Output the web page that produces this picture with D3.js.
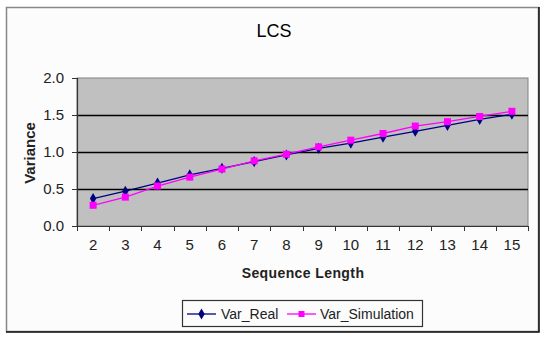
<!DOCTYPE html>
<html><head><meta charset="utf-8">
<script src="https://cdn.jsdelivr.net/npm/d3@7"></script>
<style>body{margin:0;background:#fff}svg{display:block}text{font-family:Arial,"Liberation Sans",sans-serif}</style>
</head><body>
<svg id="c" width="545" height="337"></svg>
<script>
const categories = ["2","3","4","5","6","7","8","9","10","11","12","13","14","15"];
const varReal = [0.37,0.47,0.58,0.69,0.78,0.87,0.96,1.05,1.12,1.20,1.28,1.36,1.44,1.51];
const varSim  = [0.28,0.39,0.54,0.66,0.77,0.88,0.97,1.07,1.16,1.25,1.35,1.41,1.48,1.55];
const yTicks = [0,0.5,1.0,1.5,2.0];
const seriesNames = ["Var_Real","Var_Simulation"];

const svg = d3.select("#c");
// chart frame
svg.append("rect").attr("x",6.5).attr("y",7.5).attr("width",532).attr("height",324)
  .attr("fill","#fcfcfc").attr("stroke","#888").attr("stroke-width",1.5);
svg.append("path").attr("d","M539,7 V332 H6").attr("fill","none").attr("stroke","#111").attr("stroke-width",1.5);

const L=77,R=528,T=78,B=226;
const x = d3.scaleBand().domain(categories).range([L,R]).padding(0);
const y = d3.scaleLinear().domain([0,2]).range([B,T]);

svg.append("rect").attr("x",L).attr("y",T).attr("width",R-L).attr("height",B-T)
  .attr("fill","#c0c0c0").attr("stroke","#808080").attr("stroke-width",1);

// gridlines
svg.append("g").selectAll("line").data(yTicks.filter(d=>d>0&&d<2)).join("line")
  .attr("x1",L).attr("x2",R).attr("y1",d=>Math.round(y(d))+0.5).attr("y2",d=>Math.round(y(d))+0.5)
  .attr("stroke","#000").attr("stroke-width",1.3);

// y axis
const ya = svg.append("g").attr("transform",`translate(${L},0)`)
  .call(d3.axisLeft(y).tickValues(yTicks).tickFormat(d3.format(".1f")).tickSize(5).tickPadding(8));
ya.select(".domain").attr("stroke","#333").attr("stroke-width",1.2);
ya.selectAll(".tick line").attr("stroke","#333");
ya.selectAll("text").attr("font-size",15).attr("fill","#222").attr("font-family","Arial,'Liberation Sans',sans-serif");

// x axis
const xa = svg.append("g").attr("transform",`translate(0,${B})`)
  .call(d3.axisBottom(x).tickSize(0).tickPadding(13));
xa.select(".domain").attr("stroke","#333").attr("stroke-width",1.2);
xa.selectAll("text").attr("font-size",15).attr("fill","#222").attr("font-family","Arial,'Liberation Sans',sans-serif");
// tick marks at band boundaries
const bounds = categories.map(c=>x(c)).concat([R]);
svg.append("g").selectAll("line").data(bounds).join("line")
  .attr("x1",d=>Math.round(d)+0.5).attr("x2",d=>Math.round(d)+0.5).attr("y1",B).attr("y2",B+5)
  .attr("stroke","#333");

// lines
const cx = c=>x(c)+x.bandwidth()/2;
const line = d3.line().x((d,i)=>cx(categories[i])).y(d=>y(d));
svg.append("path").datum(varReal).attr("d",line).attr("fill","none").attr("stroke","#000080").attr("stroke-width",1.3);
svg.append("path").datum(varSim).attr("d",line).attr("fill","none").attr("stroke","#ff00ff").attr("stroke-width",1.3);
const diamond = d3.symbol().type(d3.symbolDiamond).size(36);
svg.append("g").selectAll("path").data(varReal).join("path")
  .attr("transform",(d,i)=>`translate(${cx(categories[i])},${y(d)})`).attr("d",diamond).attr("fill","#000080");
svg.append("g").selectAll("rect").data(varSim).join("rect")
  .attr("x",(d,i)=>cx(categories[i])-3.5).attr("y",d=>y(d)-3.5).attr("width",7).attr("height",7).attr("fill","#ff00ff");

// titles
svg.append("text").attr("x",274).attr("y",37).attr("text-anchor","middle").attr("font-size",18).attr("fill","#000").text("LCS");
svg.append("text").attr("x",303).attr("y",278).attr("text-anchor","middle").attr("font-size",14).attr("font-weight","bold")
  .attr("letter-spacing",0.4).attr("fill","#222").text("Sequence Length");
svg.append("text").attr("transform","translate(35,153) rotate(-90)").attr("text-anchor","middle").attr("font-size",15)
  .attr("font-weight","bold").attr("fill","#222").text("Variance");

// legend
svg.append("rect").attr("x",182.5).attr("y",300.5).attr("width",240).attr("height",26)
  .attr("fill","#fcfcfc").attr("stroke","#333").attr("stroke-width",1.2);
const leg = [{x1:187,x2:216,tx:221,color:"#000080",name:seriesNames[0],m:"d"},
             {x1:287,x2:316,tx:320,color:"#ff00ff",name:seriesNames[1],m:"s"}];
leg.forEach(l=>{
  svg.append("line").attr("x1",l.x1).attr("x2",l.x2).attr("y1",314).attr("y2",314).attr("stroke",l.color).attr("stroke-width",1.3);
  const mx=(l.x1+l.x2)/2;
  if(l.m==="d") svg.append("path").attr("transform",`translate(${mx},314)`).attr("d",diamond).attr("fill",l.color);
  else svg.append("rect").attr("x",mx-3).attr("y",311).attr("width",6).attr("height",6).attr("fill",l.color);
  svg.append("text").attr("x",l.tx).attr("y",319).attr("font-size",14).attr("fill","#222").text(l.name);
});
</script>
</body></html>
